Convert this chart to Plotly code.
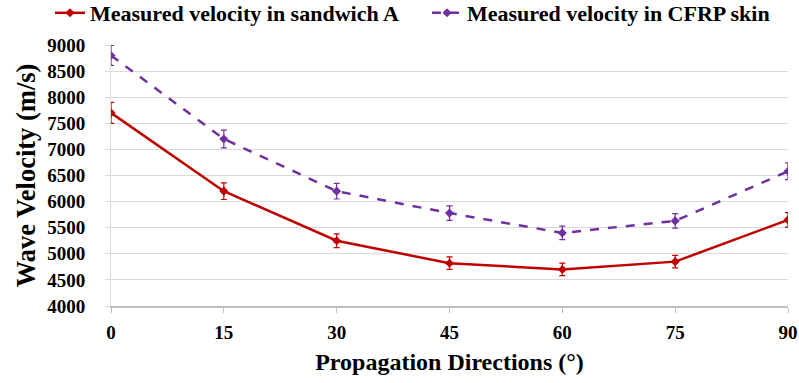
import plotly.graph_objects as go

directions = [0, 15, 30, 45, 60, 75, 90]
sandwich_a = [7700, 6200, 5250, 4820, 4700, 4850, 5650]
sandwich_a_err = [200, 160, 130, 120, 120, 120, 140]
cfrp_skin = [8800, 7200, 6200, 5780, 5400, 5630, 6580]
cfrp_skin_err = [190, 170, 150, 140, 130, 140, 160]
y_ticks = list(range(4000, 9001, 500))
x_ticks = directions

RED = "#C00000"
PURPLE = "#7030A0"
FONT = "Liberation Serif"

fig = go.Figure()
fig.add_trace(go.Scatter(
    x=directions, y=sandwich_a, mode="lines+markers",
    name="Measured velocity in sandwich A", legend="legend",
    line=dict(color=RED, width=2.5),
    marker=dict(symbol="diamond", size=7, color=RED),
    error_y=dict(type="data", array=sandwich_a_err, color=RED, thickness=1.2, width=3),
))
fig.add_trace(go.Scatter(
    x=directions, y=cfrp_skin, mode="lines+markers",
    name="Measured velocity in CFRP skin", legend="legend2",
    line=dict(color=PURPLE, width=2.5, dash="dash"),
    marker=dict(symbol="diamond", size=7, color=PURPLE),
    error_y=dict(type="data", array=cfrp_skin_err, color=PURPLE, thickness=1.2, width=3),
))

legend_common = dict(
    orientation="h", xref="container", yref="container",
    y=1 - 13 / 383, xanchor="left", yanchor="middle",
    font=dict(family=FONT, size=22, color="black", weight="bold"),
    itemwidth=30, bgcolor="rgba(0,0,0,0)", visible=True,
)

fig.update_layout(
    width=799, height=383,
    showlegend=True,
    margin=dict(l=111, r=11, t=45, b=77, autoexpand=False),
    paper_bgcolor="white", plot_bgcolor="white",
    font=dict(family=FONT, color="black"),
    legend=dict(x=50 / 799, **legend_common),
    legend2=dict(x=427 / 799, **legend_common),
    xaxis=dict(
        range=[0, 90], tickvals=x_ticks, ticktext=[str(v) for v in x_ticks],
        showgrid=False, zeroline=False, automargin=False,
        showline=True, linecolor="#BFBFBF", linewidth=1.5,
        ticks="outside", ticklen=5, tickcolor="#BFBFBF", ticklabelstandoff=3,
        tickfont=dict(family=FONT, size=19, weight="bold"),
        title=dict(text="Propagation Directions (°)", font=dict(family=FONT, size=24, weight="bold"), standoff=12),
    ),
    yaxis=dict(
        range=[4000, 9000], tickvals=y_ticks,
        showgrid=True, gridcolor="#D9D9D9", gridwidth=1.2, zeroline=False, automargin=False,
        showline=True, linecolor="#D9D9D9", linewidth=1,
        ticks="outside", ticklen=5, tickcolor="#D9D9D9", ticklabelstandoff=16,
        tickfont=dict(family=FONT, size=19, weight="bold"),
        title=dict(text="Wave Velocity (m/s)", font=dict(family=FONT, size=26.5, weight="bold"), standoff=3),
    ),
)

fig.write_html(
    "out.html",
    config={"displayModeBar": False},
    post_script="document.body.style.margin='0px'; document.body.style.overflow='hidden';",
)
